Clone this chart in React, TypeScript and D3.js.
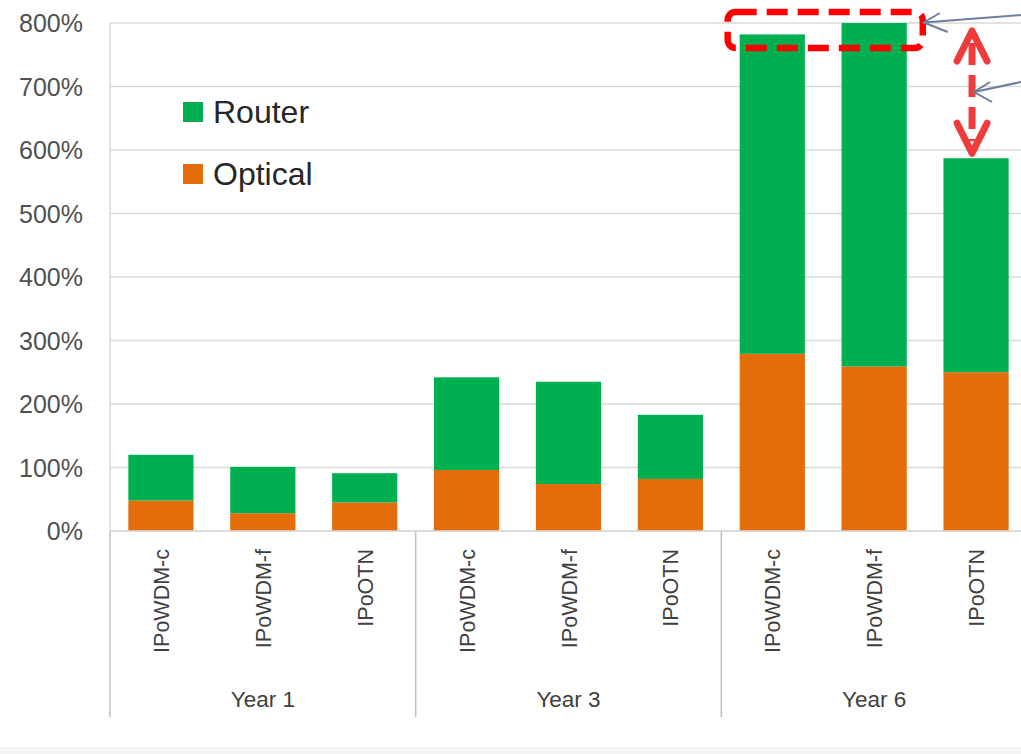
import React from "react";
import * as d3 from "d3";

const years = ["Year 1", "Year 3", "Year 6"];
const technologies = ["IPoWDM-c", "IPoWDM-f", "IPoOTN"];
const opticalValues = [48, 28, 45, 96, 74, 82, 279, 259, 250];
const routerValues = [72, 73, 46, 146, 161, 101, 503, 541, 337];
const yTicks = [0, 100, 200, 300, 400, 500, 600, 700, 800];
const seriesNames = ["Optical", "Router"];
const seriesColors = ["#E46C0A", "#00B050"];

const W = 1021;
const H = 754;
const FONT = "'Liberation Sans', Arial, sans-serif";

export default function App() {
  const left = 110;
  const right = 1027;
  const top = 23;
  const bottom = 531;

  const rows = years.flatMap((yr, gi) =>
    technologies.map((t, ti) => ({
      key: `${yr}|${t}`,
      year: yr,
      tech: t,
      Optical: opticalValues[gi * 3 + ti],
      Router: routerValues[gi * 3 + ti],
    }))
  );

  const x = d3
    .scaleBand<string>()
    .domain(rows.map((r) => r.key))
    .range([left, right])
    .paddingInner(0.36)
    .paddingOuter(0.18);
  const step = (right - left) / rows.length;
  const y = d3.scaleLinear().domain([0, 800]).range([bottom, top]);
  const stack = d3.stack<any>().keys(seriesNames);
  const stacked = stack(rows);

  const groupEdges = years.map((_, i) => left + i * 3 * step).concat([right]);

  const bw = x.bandwidth();
  const c6 = x("Year 6|IPoWDM-c")!;
  const f6 = x("Year 6|IPoWDM-f")!;
  const o6 = x("Year 6|IPoOTN")!;
  const maxTotal = d3.max(rows, (r) => r.Optical + r.Router)!;
  const otnTotal = rows[8].Optical + rows[8].Router;

  // annotation geometry derived from scales
  const rx0 = c6 - 12;
  const rx1 = f6 + bw + 16;
  const ry0 = y(maxTotal) - 11;
  const ry1 = y(maxTotal) + 25;
  const ax = o6 + bw / 2 - 4;
  const aTop = y(maxTotal) + 8;
  const aBot = y(otnTotal) - 5;

  return (
    <svg
      width={W}
      height={H}
      style={{ position: "absolute", left: 0, top: 0, background: "#fff" }}
      fontFamily={FONT}
    >
      <rect x={0} y={0} width={W} height={H} fill="#fff" />
      <rect x={0} y={747} width={W} height={H - 747} fill="#F4F4F4" />

      {/* gridlines */}
      {yTicks.map((t) => (
        <line
          key={t}
          x1={left}
          x2={W}
          y1={y(t)}
          y2={y(t)}
          stroke="#D9D9D9"
          strokeWidth={1.5}
        />
      ))}
      {/* y axis line */}
      <line x1={left} x2={left} y1={top} y2={bottom} stroke="#D9D9D9" strokeWidth={1.5} />

      {/* y tick labels */}
      {yTicks.map((t) => (
        <text
          key={t}
          x={83}
          y={y(t)}
          textAnchor="end"
          dominantBaseline="central"
          fontSize={25}
          fill="#505050"
        >
          {t}%
        </text>
      ))}

      {/* bars */}
      {stacked.map((s, si) =>
        s.map((d, i) => (
          <rect
            key={`${si}-${i}`}
            x={x(rows[i].key)}
            width={bw}
            y={y(d[1])}
            height={y(d[0]) - y(d[1])}
            fill={seriesColors[si]}
          />
        ))
      )}

      {/* group separators */}
      {groupEdges.map((gx, i) => (
        <line
          key={i}
          x1={gx}
          x2={gx}
          y1={bottom}
          y2={717}
          stroke="#BFBFBF"
          strokeWidth={1.5}
        />
      ))}
      <line x1={left} x2={W} y1={bottom} y2={bottom} stroke="#D9D9D9" strokeWidth={1.5} />

      {/* category labels */}
      {rows.map((r) => {
        const cx = x(r.key)! + bw / 2 + 1;
        return (
          <text
            key={r.key}
            transform={`translate(${cx},549) rotate(-90)`}
            textAnchor="end"
            dominantBaseline="central"
            fontSize={21.5}
            fill="#404040"
          >
            {r.tech}
          </text>
        );
      })}

      {/* year labels */}
      {years.map((yr, i) => (
        <text
          key={yr}
          x={(groupEdges[i] + groupEdges[i + 1]) / 2}
          y={699}
          textAnchor="middle"
          dominantBaseline="central"
          fontSize={22.5}
          fill="#404040"
        >
          {yr}
        </text>
      ))}

      {/* legend */}
      {["Router", "Optical"].map((name, i) => {
        const si = seriesNames.indexOf(name);
        const cy = 112 + i * 62;
        return (
          <g key={name}>
            <rect x={183} y={cy - 10} width={20} height={20} fill={seriesColors[si]} />
            <text x={213} y={cy + 11} fontSize={32} fill="#262626">
              {name}
            </text>
          </g>
        );
      })}

      {/* annotations */}
      <rect
        x={rx0}
        y={ry0}
        width={rx1 - rx0}
        height={ry1 - ry0}
        rx={8}
        fill="none"
        stroke="#FF0000"
        strokeWidth={6.5}
        strokeDasharray="21 10"
      />
      <g stroke="#EE3B3B" strokeWidth={7} fill="none" strokeLinecap="round" strokeLinejoin="round">
        <line x1={ax} x2={ax} y1={aTop + 12} y2={aBot - 12} strokeDasharray="22 10" strokeLinecap="butt" />
        <polyline points={`${ax - 15},${aTop + 30} ${ax},${aTop} ${ax + 15},${aTop + 30}`} />
        <polyline points={`${ax - 15},${aBot - 30} ${ax},${aBot} ${ax + 15},${aBot - 30}`} />
      </g>
      <g stroke="#6A7FA0" strokeWidth={2} fill="none">
        <line x1={rx1 + 1} y1={y(maxTotal) - 0.5} x2={W} y2={y(maxTotal) - 8} />
        <polyline
          points={`${rx1 + 17},${y(maxTotal) - 10} ${rx1 + 1},${y(maxTotal) - 0.5} ${rx1 + 25},${y(maxTotal) + 9}`}
        />
        <line x1={ax + 2} y1={92} x2={W} y2={82} />
        <polyline points={`${ax + 18},82 ${ax + 2},92 ${ax + 20},102`} />
      </g>
    </svg>
  );
}
